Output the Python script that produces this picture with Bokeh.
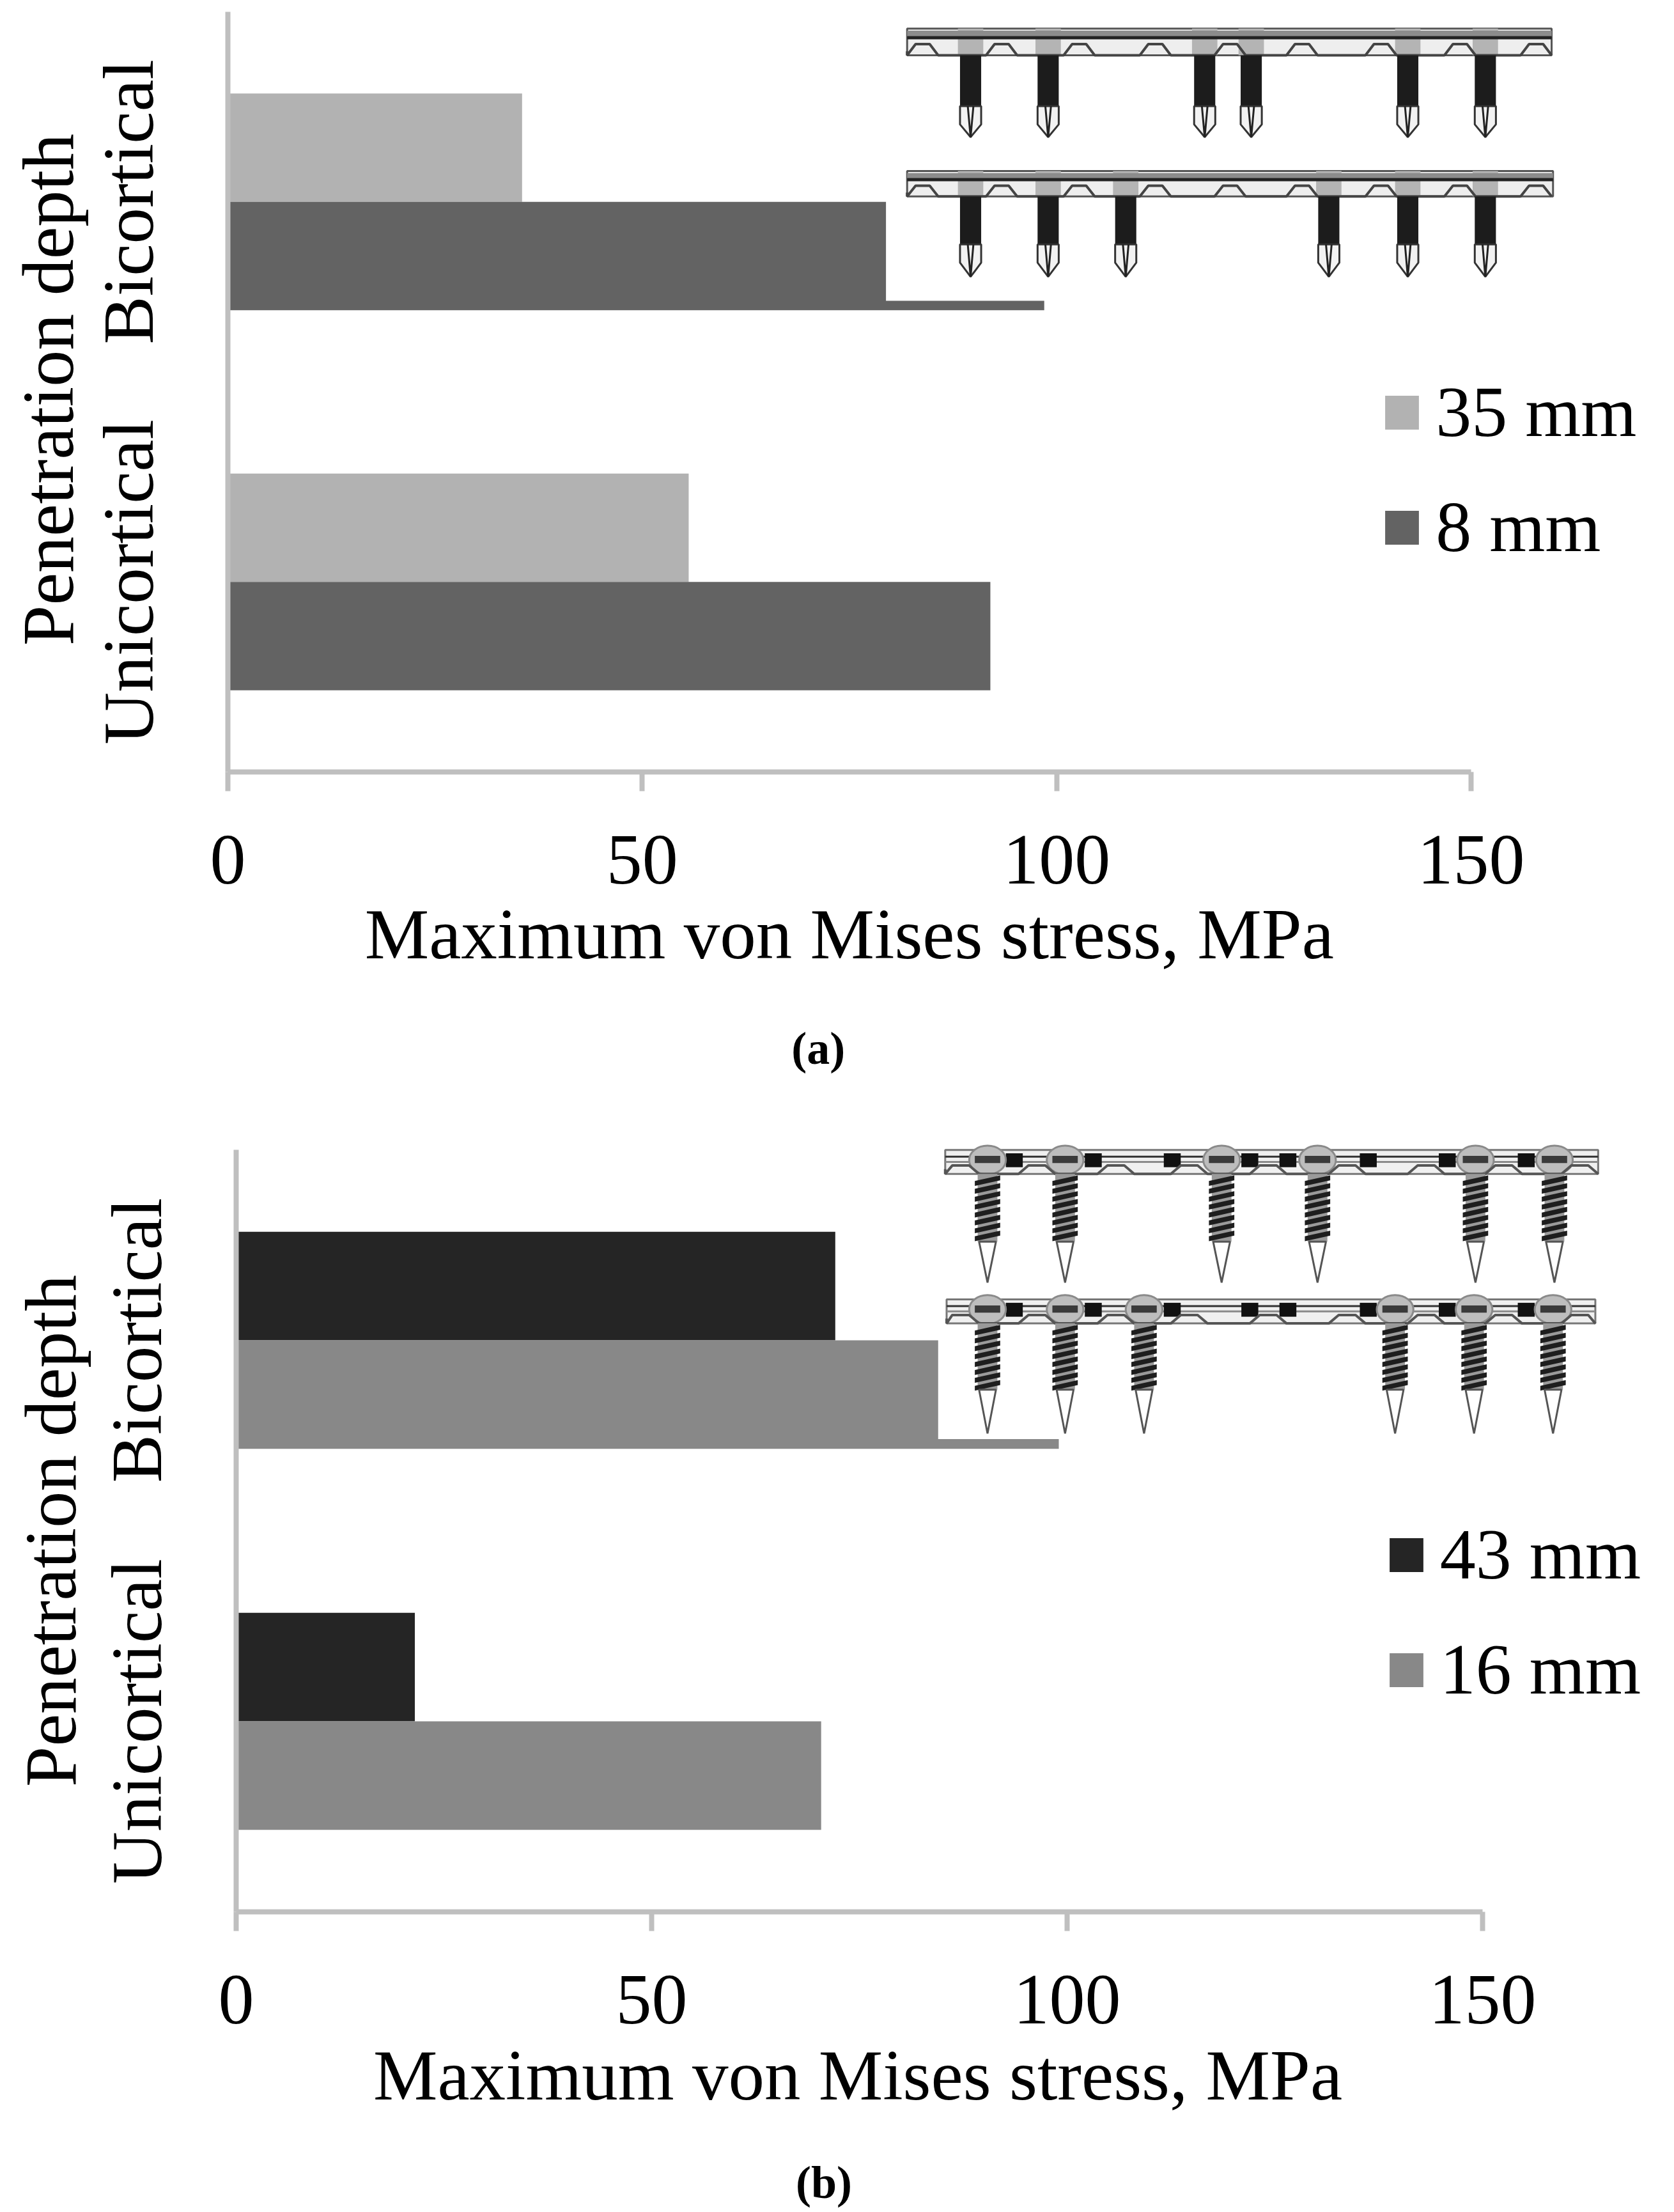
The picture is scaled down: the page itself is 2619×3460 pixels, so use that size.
import math

from bokeh.embed import file_html
from bokeh.resources import INLINE
from bokeh.layouts import column
from bokeh.models import FixedTicker, Label, Legend, LegendItem, Range1d
from bokeh.plotting import figure

# ---------- data ----------
depths = ["Unicortical", "Bicortical"]
x_ticks = [0, 50, 100, 150]
y_title = "Penetration depth"
x_title = "Maximum von Mises stress, MPa"

a_names = ["35 mm", "8 mm"]
a_upper = [55.6, 35.5]   # Unicortical, Bicortical
a_lower = [92.0, 98.5]
a_colors = ["#b2b2b2", "#636363"]

b_names = ["43 mm", "16 mm"]
b_upper = [21.5, 72.1]
b_lower = [70.4, 99.0]
b_colors = ["#252525", "#888888"]

# ---------- page geometry (page pixels) ----------
S = 2619 / 1187
FONT = "Liberation Serif"
W = 2611
AXIS = "#bfbfbf"
BAR_H = 0.285
FS = "112px"


def panel(fig_top, fig_h, x0, x150, y_top, y_bot, names, upper, lower, colors,
          tag, tag_xy, inset, legend_xy, legend_spacing, ytitle_xy, xtitle_xy):
    scale = (x150 - x0) / 150.0
    yscale = (y_bot - y_top) / 2.0
    p = figure(width=W, height=fig_h, output_backend="svg", toolbar_location=None,
               x_range=Range1d(-x0 / scale, (W - x0) / scale),
               y_range=Range1d(-(fig_top + fig_h - y_bot) / yscale, (y_bot - fig_top) / yscale),
               min_border=0, min_border_left=0, min_border_right=0,
               min_border_top=0, min_border_bottom=0,
               background_fill_color="white", border_fill_color="white")
    p.outline_line_color = None
    p.grid.visible = False

    ys = [i + 0.5 for i in range(len(depths))]
    up = p.hbar(y=[v + BAR_H / 2 for v in ys], right=upper, left=0, height=BAR_H,
                fill_color=colors[0], line_color=None)
    lo = p.hbar(y=[v - BAR_H / 2 for v in ys], right=lower, left=0, height=BAR_H,
                fill_color=colors[1], line_color=None)

    X = lambda px: (px * S - x0) / scale
    Y = lambda py: (y_bot - py * S) / yscale

    inset(p, X, Y)

    xa = p.xaxis[0]
    xa.fixed_location = 0
    xa.ticker = FixedTicker(ticks=x_ticks)
    xa.bounds = (0, 150)
    xa.major_label_text_font = FONT
    xa.major_label_text_font_size = FS
    xa.major_label_text_color = "black"
    xa.major_label_standoff = 70
    xa.axis_line_color = AXIS
    xa.axis_line_width = 8
    xa.major_tick_line_color = AXIS
    xa.major_tick_line_width = 8
    xa.major_tick_out = 30
    xa.major_tick_in = 0
    xa.minor_tick_line_color = None

    ya = p.yaxis[0]
    ya.fixed_location = 0
    ya.ticker = FixedTicker(ticks=ys)
    ya.bounds = (0, 2)
    ya.major_label_overrides = {v: d for v, d in zip(ys, depths)}
    ya.major_label_orientation = "vertical"
    ya.major_label_text_font = FONT
    ya.major_label_text_font_size = "113px"
    ya.major_label_text_color = "black"
    ya.major_label_standoff = 88
    ya.axis_line_color = AXIS
    ya.axis_line_width = 8
    ya.major_tick_line_color = None
    ya.minor_tick_line_color = None

    leg = Legend(items=[LegendItem(label=names[0], renderers=[up]),
                        LegendItem(label=names[1], renderers=[lo])],
                 location=(legend_xy[0] * S - 6.5, fig_top + fig_h - legend_xy[1] * S),
                 orientation="vertical", glyph_width=66, glyph_height=66,
                 label_standoff=20, spacing=legend_spacing, padding=0, margin=0,
                 background_fill_alpha=0, border_line_color=None,
                 label_text_font=FONT, label_text_font_size=FS,
                 label_text_color="black")
    p.add_layout(leg, "center")

    p.add_layout(Label(x=X(ytitle_xy[0]), y=Y(ytitle_xy[1]),
                       text=y_title, angle=math.pi / 2, text_font=FONT, text_font_size="114px",
                       text_align="center", text_baseline="middle", text_color="black"))
    p.add_layout(Label(x=X(xtitle_xy[0]), y=Y(xtitle_xy[1]),
                       text=x_title, text_font=FONT, text_font_size="113px",
                       text_align="center", text_baseline="alphabetic", text_color="black"))
    p.add_layout(Label(x=X(tag_xy[0]), y=Y(tag_xy[1]),
                       text=tag, text_font=FONT, text_font_style="bold", text_font_size="72px",
                       text_align="center", text_baseline="middle", text_color="black"))
    return p


def plate_a(p, X, Y, x1, x2, y1, y2, screws, bump_xs, shank_end, tip_end):
    """Rod-like plate with smooth pins."""
    h = y2 - y1
    p.quad(left=[X(x1)], right=[X(x2)], top=[Y(y1)], bottom=[Y(y2)],
           fill_color="#eeeeee", line_color="#555555", line_width=3)
    p.quad(left=[X(s - 9) for s in screws], right=[X(s + 9) for s in screws],
           top=[Y(y1)] * len(screws), bottom=[Y(y2)] * len(screws),
           fill_color="#b4b4b4", line_color=None)
    p.quad(left=[X(x1)], right=[X(x2)], top=[Y(y1 + 0.08 * h)], bottom=[Y(y1 + 0.3 * h)],
           fill_color="#8c8c8c", line_color=None)
    p.line([X(x1), X(x2)], [Y(y1 + 0.34 * h)] * 2, line_color="#222222", line_width=5)
    xs, ys = [x1], [y1 + 0.85 * h]
    for b in bump_xs:
        xs += [b - 11, b - 5, b + 5, min(b + 11, x2)]
        ys += [y2, y1 + 0.58 * h, y1 + 0.58 * h, y2]
    p.line([X(v) for v in xs], [Y(v) for v in ys], line_color="#444444", line_width=4)
    w = 7.5
    p.quad(left=[X(s - w) for s in screws], right=[X(s + w) for s in screws],
           top=[Y(y2)] * len(screws), bottom=[Y(shank_end)] * len(screws),
           fill_color="#1c1c1c", line_color=None)
    for s in screws:
        p.patch([X(v) for v in (s - w, s + w, s + w, s, s - w)],
                [Y(v) for v in (shank_end, shank_end, shank_end + 13, tip_end, shank_end + 13)],
                fill_color="#f2f2f2", line_color="#333333", line_width=3)
        p.line([X(s - 2), X(s), X(s + 2)], [Y(shank_end), Y(tip_end), Y(shank_end)],
               line_color="#222222", line_width=3)


def plate_b(p, X, Y, x1, x2, y1, y2, screws, bump_xs, wedge_xs, thread_end, tip_end):
    """Locking plate with threaded screws."""
    h = y2 - y1
    p.quad(left=[X(x1)], right=[X(x2)], top=[Y(y1)], bottom=[Y(y2)],
           fill_color="#f0f0f0", line_color="#777777", line_width=3)
    p.line([X(x1), X(x2)], [Y(y1 + 0.28 * h)] * 2, line_color="#333333", line_width=3)
    p.line([X(x1), X(x2)], [Y(y1 + 0.5 * h)] * 2, line_color="#8a8a8a", line_width=3)
    p.quad(left=[X(b - 6) for b in wedge_xs], right=[X(b + 6) for b in wedge_xs],
           top=[Y(y1 + 0.14 * h)] * len(wedge_xs), bottom=[Y(y1 + 0.72 * h)] * len(wedge_xs),
           fill_color="#111111", line_color=None)
    p.ellipse(x=[X(s) for s in screws], y=[Y(y1 + 0.42 * h)] * len(screws),
              width=[X(26) - X(0)] * len(screws), height=[Y(0) - Y(h * 1.2)] * len(screws),
              fill_color="#bdbdbd", line_color="#8a8a8a", line_width=3)
    p.quad(left=[X(s - 9) for s in screws], right=[X(s + 9) for s in screws],
           top=[Y(y1 + 0.25 * h)] * len(screws), bottom=[Y(y1 + 0.55 * h)] * len(screws),
           fill_color="#3a3a3a", line_color=None)
    xs, ys = [x1], [y1 + 0.8 * h]
    for b in bump_xs:
        xs += [max(b - 13, x1), b - 6, b + 6, min(b + 13, x2)]
        ys += [y2, y1 + 0.65 * h, y1 + 0.65 * h, y2]
    p.line([X(v) for v in xs], [Y(v) for v in ys], line_color="#555555", line_width=4)
    w = 9
    for s in screws:
        p.quad(left=[X(s - 7)], right=[X(s + 7)], top=[Y(y2)], bottom=[Y(thread_end)],
               fill_color="#9a9a9a", line_color=None)
        yy = y2 + 1
        while yy < thread_end - 3:
            p.patch([X(s - w), X(s + w), X(s + w), X(s - w)],
                    [Y(yy + 4), Y(yy), Y(yy + 3.5), Y(yy + 7.5)],
                    fill_color="#1e1e1e", line_color=None)
            yy += 5.6
        p.patch([X(s - 6), X(s + 6), X(s)], [Y(thread_end), Y(thread_end), Y(tip_end)],
                fill_color="white", line_color="#555555", line_width=3)


A_BUMPS = [654, 710, 765, 819, 872, 923, 979, 1035, 1089]
B_BUMPS = [681, 735, 791, 843, 899, 955, 1011, 1066, 1120]
B_WEDGES = [719, 775, 831, 886, 913, 970, 1026, 1082]


def inset_a(p, X, Y):
    p.quad(left=[X(628)], right=[X(1106)], top=[Y(10)], bottom=[Y(213)],
           fill_color="white", line_color=None)
    plate_a(p, X, Y, 643, 1100, 20, 39, [688, 743, 854, 887, 998, 1053], A_BUMPS, 75, 97)
    plate_a(p, X, Y, 643, 1101, 121, 139, [688, 743, 798, 942, 998, 1053], A_BUMPS, 173, 196)


def inset_b(p, X, Y):
    p.quad(left=[X(665)], right=[X(1138)], top=[Y(810)], bottom=[Y(1020)],
           fill_color="white", line_color=None)
    plate_b(p, X, Y, 670, 1133, 815, 832, [700, 755, 866, 934, 1046, 1102], B_BUMPS, B_WEDGES, 880, 909)
    plate_b(p, X, Y, 671, 1131, 921, 938, [700, 755, 811, 989, 1045, 1101], B_BUMPS, B_WEDGES, 985, 1016)


TOP_H = 1770
pa = panel(0, TOP_H, 356, 2301, 18, 1207, a_names, a_upper, a_lower, a_colors,
           "(a)", (580, 743), inset_a, (982, 403), 51, (34, 276), (602, 661.5))
pb = panel(TOP_H, 3460 - TOP_H, 369, 2319, 1798, 2990, b_names, b_upper, b_lower, b_colors,
           "(b)", (584, 1547), inset_b, (985, 1213), 51, (36, 1085), (608, 1470.5))

open("out.html", "w").write(file_html(column(pa, pb, spacing=0), INLINE))
